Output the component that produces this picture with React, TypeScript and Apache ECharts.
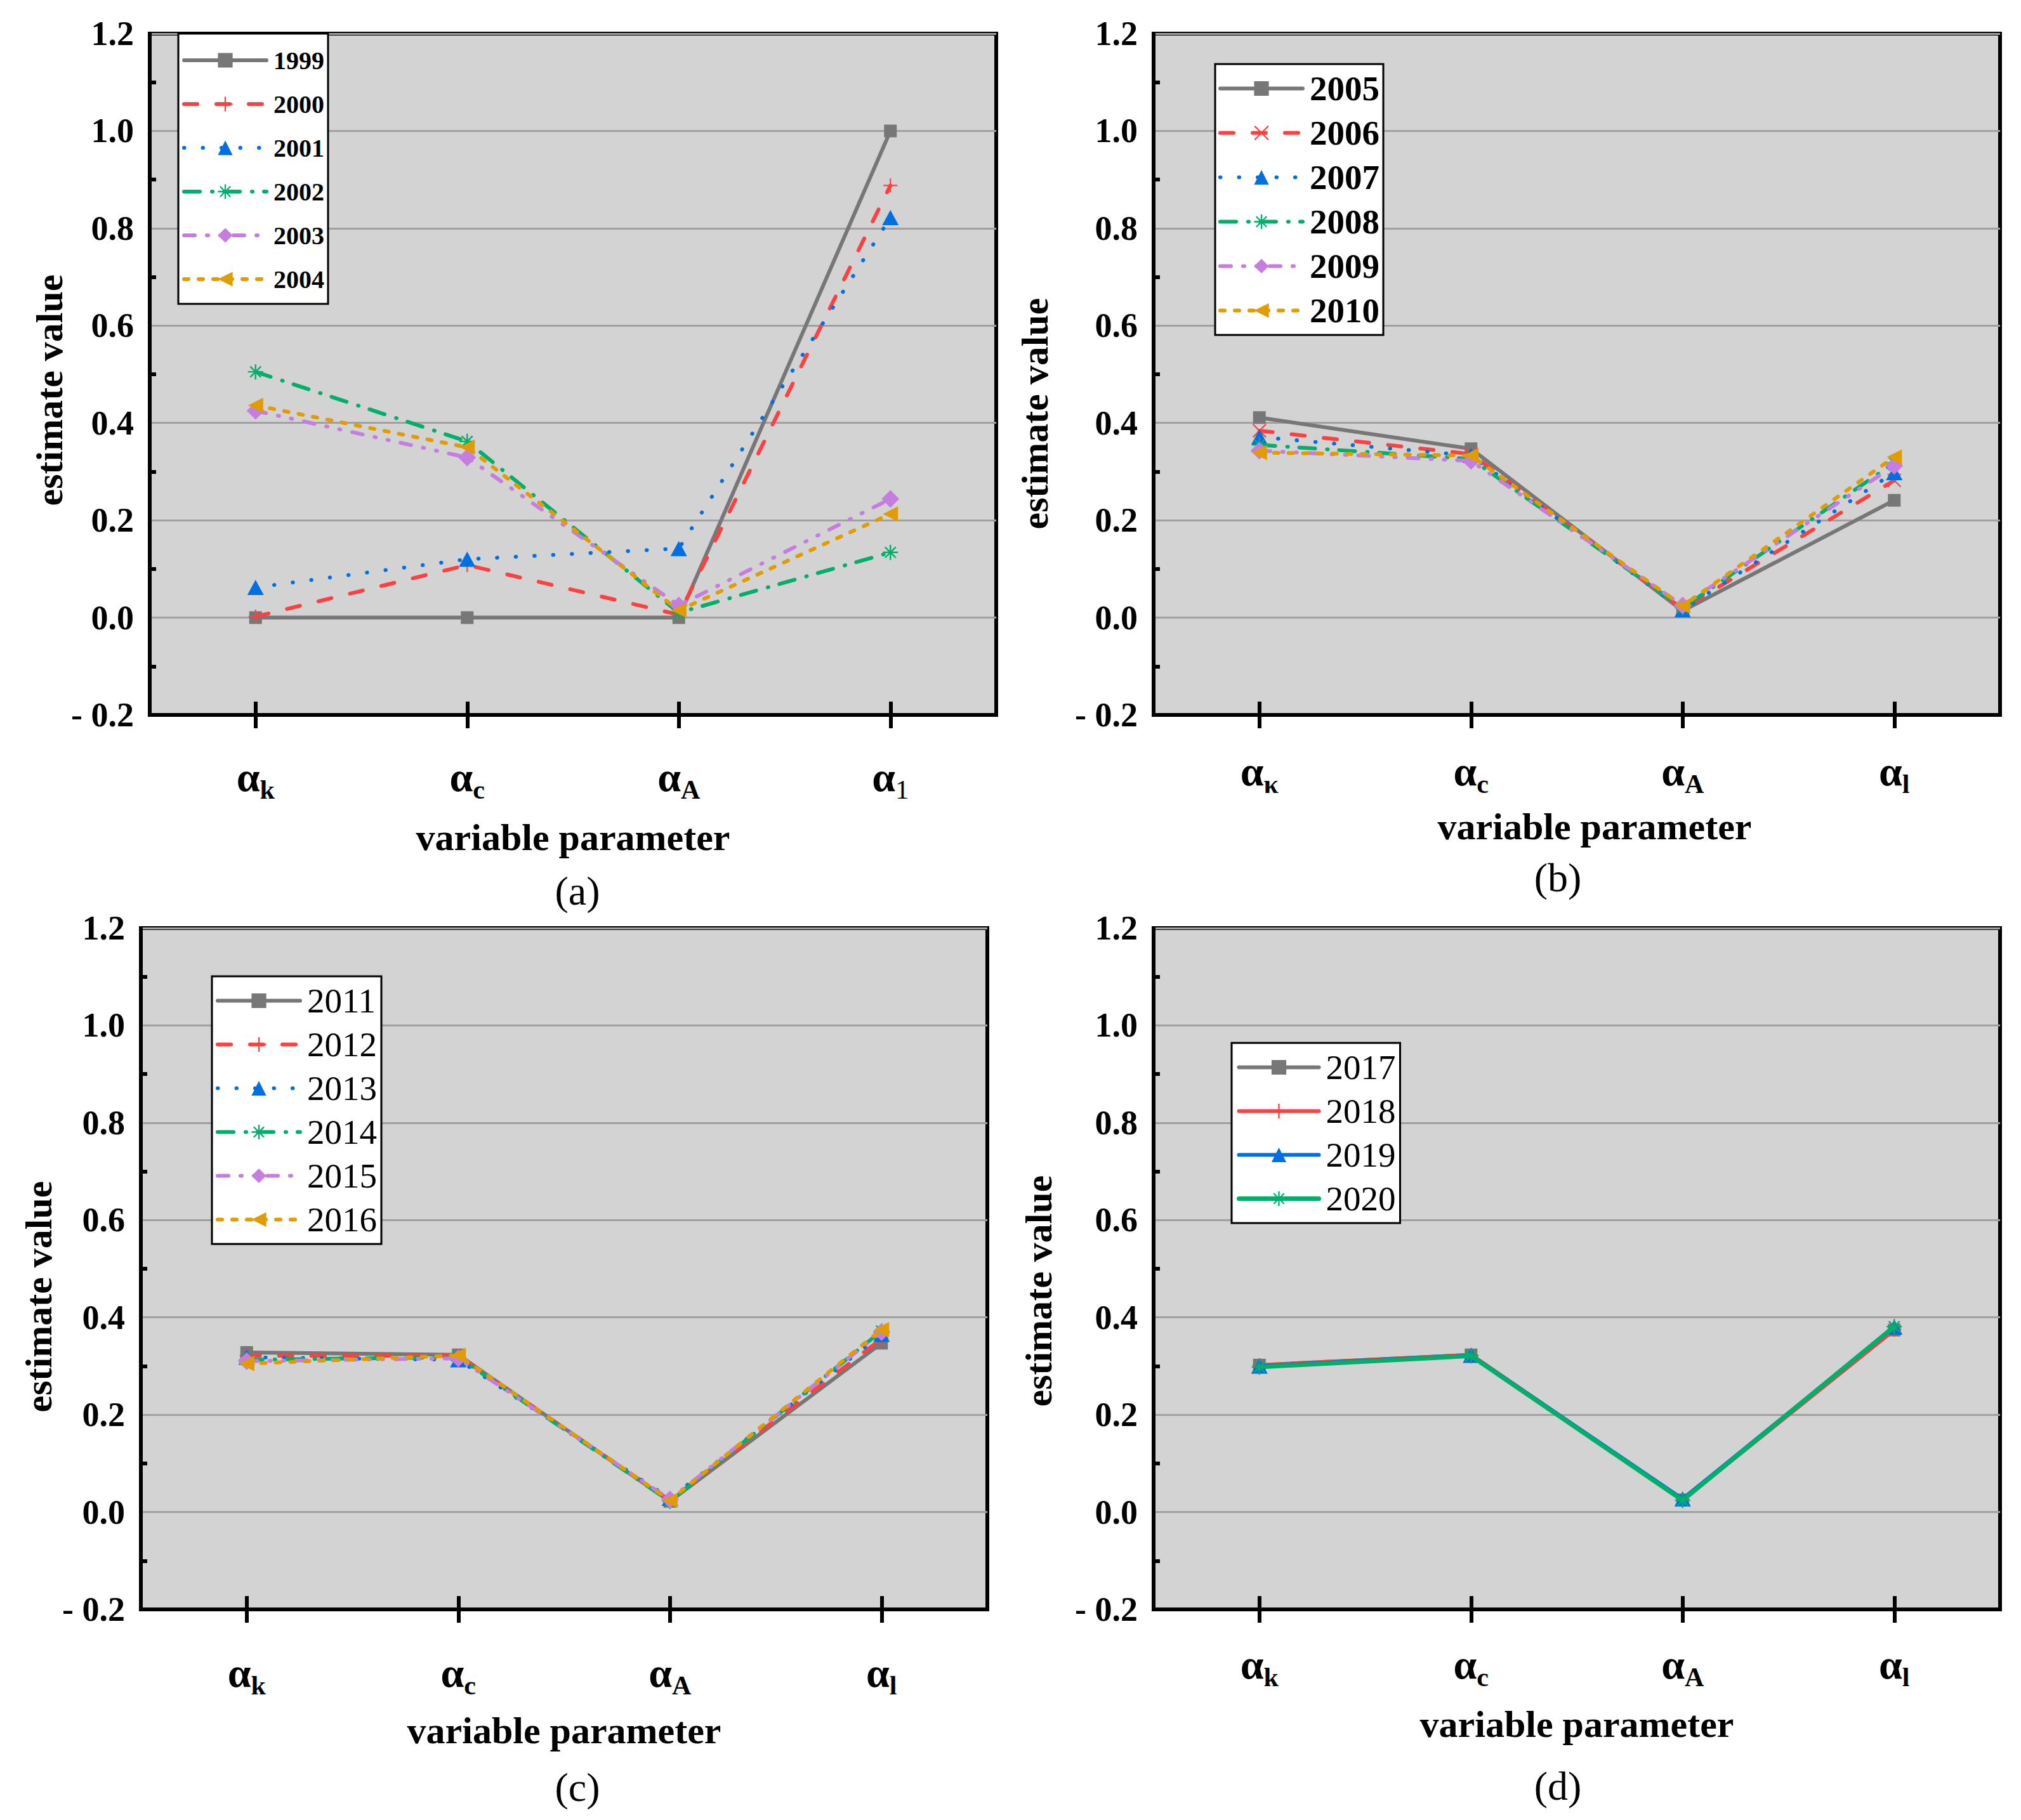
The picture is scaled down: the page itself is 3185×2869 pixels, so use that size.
import React, { useEffect, useRef } from 'react';
import * as echarts from 'echarts';

// ---------- data ----------
const catsA = ['αk', 'αc', 'αA', 'α1'];
const catsB = ['ακ', 'αc', 'αA', 'αl'];
const catsC = ['αk', 'αc', 'αA', 'αl'];
const catsD = ['αk', 'αc', 'αA', 'αl'];

const yearsA = ['1999', '2000', '2001', '2002', '2003', '2004'];
const yearsB = ['2005', '2006', '2007', '2008', '2009', '2010'];
const yearsC = ['2011', '2012', '2013', '2014', '2015', '2016'];
const yearsD = ['2017', '2018', '2019', '2020'];

const y1999 = [0, 0, 0, 1.0];
const y2000 = [0.002, 0.108, 0.006, 0.888];
const y2001 = [0.062, 0.12, 0.142, 0.822];
const y2002 = [0.505, 0.362, 0.01, 0.134];
const y2003 = [0.425, 0.329, 0.025, 0.244];
const y2004 = [0.436, 0.35, 0.015, 0.213];

const y2005 = [0.411, 0.347, 0.014, 0.241];
const y2006 = [0.384, 0.336, 0.018, 0.282];
const y2007 = [0.371, 0.333, 0.016, 0.298];
const y2008 = [0.355, 0.326, 0.02, 0.318];
const y2009 = [0.343, 0.322, 0.025, 0.312];
const y2010 = [0.339, 0.333, 0.024, 0.33];

const y2011 = [0.328, 0.323, 0.022, 0.347];
const y2012 = [0.321, 0.321, 0.024, 0.356];
const y2013 = [0.318, 0.313, 0.028, 0.365];
const y2014 = [0.313, 0.318, 0.022, 0.372];
const y2015 = [0.31, 0.316, 0.026, 0.37];
const y2016 = [0.305, 0.322, 0.024, 0.375];

const y2017 = [0.302, 0.323, 0.025, 0.374];
const y2018 = [0.302, 0.323, 0.025, 0.375];
const y2019 = [0.3, 0.322, 0.027, 0.38];
const y2020 = [0.298, 0.321, 0.024, 0.381];

const yTickMin = -0.2;
const yTickMax = 1.2;
const yTickStep = 0.2;

// ---------- styles ----------
const FONT = 'Liberation Serif';
const PLUS = 'path://M9,0H11V9H20V11H11V20H9V11H0V9H9Z';
const STAR =
  'path://M9,0H11V20H9Z M0,9H20V11H0Z M3.64,2.22L17.78,16.36L16.36,17.78L2.22,3.64Z M16.36,2.22L17.78,3.64L3.64,17.78L2.22,16.36Z';
const CROSS = 'path://M0,1.41L1.41,0L20,18.59L18.59,20Z M18.59,0L20,1.41L1.41,20L0,18.59Z';
const LTRI = 'path://M0,10L20,0L20,20Z';

type Sty = { color: string; symbol: string; size: any; dash: any };
const STY: Sty[] = [
  { color: '#777777', symbol: 'rect', size: 20, dash: 'solid' },
  { color: '#ff4040', symbol: PLUS, size: 22, dash: [21, 30] },
  { color: '#0070e0', symbol: 'triangle', size: [26, 24], dash: [0.5, 29] },
  { color: '#00b06a', symbol: STAR, size: 24, dash: [25, 19, 1, 18] },
  { color: '#c57ee0', symbol: 'diamond', size: [28, 28], dash: [17, 19, 2, 19, 2, 19] },
  { color: '#e09c00', symbol: LTRI, size: 24, dash: [7, 16] },
];

type Panel = {
  cats: string[];
  years: string[];
  values: number[][];
  grid: { left: number; top: number };
  labelMargin: number;
  xNameGap: number;
  xNamePad: number[];
  yNameGap: number;
  yNamePad: number[];
  legend: { left: number; top: number; pad: number[]; gap: number; font: number; bold: boolean; lh: number; iw: number };
  solid: boolean;
  marker2?: string;
  tag: string;
  tagPos: number[];
};

const panels: Panel[] = [
  {
    cats: catsA,
    years: yearsA,
    values: [y1999, y2000, y2001, y2002, y2003, y2004],
    grid: { left: 236, top: 53 },
    labelMargin: 64,
    xNameGap: 163,
    xNamePad: [0, 0, 0, 0],
    yNameGap: 92,
    yNamePad: [0, 50, 0, 0],
    legend: { left: 281, top: 53, pad: [22, 6, 19, 6], gap: 29, font: 40, bold: true, lh: 40, iw: 130 },
    solid: false,
    tag: '(a)',
    tagPos: [910, 1404],
  },
  {
    cats: catsB,
    years: yearsB,
    values: [y2005, y2006, y2007, y2008, y2009, y2010],
    grid: { left: 1818, top: 53 },
    labelMargin: 55,
    xNameGap: 146,
    xNamePad: [0, 0, 0, 56],
    yNameGap: 157,
    yNamePad: [0, 124, 0, 0],
    legend: { left: 1915, top: 101, pad: [11, 6, 11, 5], gap: 15, font: 55, bold: true, lh: 55, iw: 130 },
    solid: false,
    marker2: CROSS,
    tag: '(b)',
    tagPos: [2455, 1383],
  },
  {
    cats: catsC,
    years: yearsC,
    values: [y2011, y2012, y2013, y2014, y2015, y2016],
    grid: { left: 222, top: 1463 },
    labelMargin: 66,
    xNameGap: 161,
    xNamePad: [0, 0, 0, 0],
    yNameGap: 131,
    yNamePad: [0, 88, 0, 0],
    legend: { left: 334, top: 1539, pad: [11, 7, 11, 6], gap: 14, font: 55, bold: false, lh: 55, iw: 130 },
    solid: false,
    tag: '(c)',
    tagPos: [910, 2817],
  },
  {
    cats: catsD,
    years: yearsD,
    values: [y2017, y2018, y2019, y2020],
    grid: { left: 1818, top: 1463 },
    labelMargin: 53,
    xNameGap: 151,
    xNamePad: [0, 0, 0, 0],
    yNameGap: 151,
    yNamePad: [0, 70, 0, 0],
    legend: { left: 1941, top: 1644, pad: [11, 7, 11, 8], gap: 14, font: 55, bold: false, lh: 55, iw: 126 },
    solid: true,
    tag: '(d)',
    tagPos: [2455, 2815],
  },
];

const GW = 1334;
const GH = 1074;

function buildOption() {
  const grid: any[] = [];
  const xAxis: any[] = [];
  const yAxis: any[] = [];
  const series: any[] = [];
  const legend: any[] = [];
  const graphic: any[] = [];

  panels.forEach((p, gi) => {
    grid.push({
      left: p.grid.left,
      top: p.grid.top,
      width: GW,
      height: GH,
      show: true,
      backgroundColor: '#d3d3d3',
      borderColor: '#000',
      borderWidth: 6,
    });
    const labelFmt = (v: string) => {
      const sub = v.slice(1);
      const key = sub === '1' ? 'r' : 's';
      return '{a|' + v.charAt(0) + '}{' + key + '|' + sub + '}';
    };
    xAxis.push({
      type: 'category',
      gridIndex: gi,
      data: p.cats,
      position: 'bottom',
      boundaryGap: true,
      axisLine: { show: true, onZero: false, lineStyle: { color: '#000', width: 6 } },
      axisTick: { show: true, alignWithLabel: true, inside: false, length: 21, lineStyle: { color: '#000', width: 6 } },
      axisLabel: {
        interval: 0,
        margin: p.labelMargin,
        formatter: labelFmt,
        rich: {
          a: { fontFamily: FONT, fontWeight: 'bold', fontSize: 66, lineHeight: 66, verticalAlign: 'top', color: '#000' },
          s: { fontFamily: FONT, fontWeight: 'bold', fontSize: 42, lineHeight: 42, verticalAlign: 'top', padding: [33, 0, 0, 0], color: '#000' },
          r: { fontFamily: FONT, fontWeight: 'normal', fontSize: 42, lineHeight: 42, verticalAlign: 'top', padding: [33, 0, 0, 0], color: '#000' },
        },
      },
      splitLine: { show: false },
      name: 'variable parameter',
      nameLocation: 'middle',
      nameGap: p.xNameGap,
      nameTextStyle: { fontFamily: FONT, fontWeight: 'bold', fontSize: 60, color: '#000', padding: p.xNamePad },
    });
    xAxis.push({
      type: 'category',
      gridIndex: gi,
      data: p.cats,
      position: 'bottom',
      boundaryGap: true,
      axisLine: { show: false, onZero: false },
      axisTick: { show: true, alignWithLabel: true, inside: true, length: 21, lineStyle: { color: '#000', width: 6 } },
      axisLabel: { show: false },
      splitLine: { show: false },
    });
    yAxis.push({
      type: 'value',
      gridIndex: gi,
      min: yTickMin,
      max: yTickMax,
      interval: yTickStep,
      axisLine: { show: true, onZero: false, lineStyle: { color: '#000', width: 6 } },
      axisTick: { show: false, inside: true },
      minorTick: { show: true, splitNumber: 2, length: 10, lineStyle: { color: '#000', width: 6 } },
      axisLabel: {
        margin: 25,
        fontFamily: FONT,
        fontWeight: 'bold',
        fontSize: 54,
        color: '#000',
        formatter: (v: number) => (v < -1e-9 ? '- ' + Math.abs(v).toFixed(1) : Math.abs(v).toFixed(1)),
      },
      splitLine: { show: true, lineStyle: { color: '#a0a0a0', width: 3 } },
      name: 'estimate value',
      nameLocation: 'middle',
      nameGap: p.yNameGap,
      nameRotate: 90,
      nameTextStyle: { fontFamily: FONT, fontWeight: 'bold', fontSize: 60, color: '#000', padding: p.yNamePad },
    });

    p.years.forEach((yr, si) => {
      const st = STY[si];
      const symbol = si === 1 && p.marker2 ? p.marker2 : st.symbol;
      const dash = p.solid ? 'solid' : st.dash;
      const width = p.solid && si === 3 ? 7 : 6;
      series.push({
        type: 'line',
        name: yr,
        xAxisIndex: gi * 2,
        yAxisIndex: gi,
        data: p.values[si],
        symbol,
        symbolSize: symbol === CROSS ? 22 : st.size,
        showAllSymbol: true,
        lineStyle: { color: st.color, width, type: dash, cap: 'round' },
        itemStyle: { color: st.color },
        emphasis: { disabled: true },
        z: 3 + si,
      });
    });

    legend.push({
      show: true,
      orient: 'vertical',
      left: p.legend.left,
      top: p.legend.top,
      itemWidth: p.legend.iw,
      itemHeight: 29,
      itemGap: p.legend.gap,
      padding: p.legend.pad,
      backgroundColor: '#fff',
      borderColor: '#000',
      borderWidth: 3,
      selectedMode: false,
      textStyle: {
        fontFamily: FONT,
        fontWeight: p.legend.bold ? 'bold' : 'normal',
        fontSize: p.legend.font,
        lineHeight: p.legend.lh,
        color: '#000',
        padding: [0, 0, 0, 6],
      },
      data: p.years.map((yr, si) => ({
        name: yr,
        lineStyle: {
          color: STY[si].color,
          width: p.solid && si === 3 ? 7 : 6,
          type: p.solid ? 'solid' : STY[si].dash,
          cap: 'round',
        },
      })),
    });

    graphic.push({
      type: 'text',
      x: p.tagPos[0],
      y: p.tagPos[1],
      style: {
        text: p.tag,
        fontFamily: FONT,
        fontSize: 64,
        fill: '#000',
        textAlign: 'center',
        textVerticalAlign: 'middle',
        align: 'center',
        verticalAlign: 'middle',
      },
    });
  });

  return {
    animation: false,
    backgroundColor: '#fff',
    textStyle: { fontFamily: FONT },
    grid,
    xAxis,
    yAxis,
    series,
    legend,
    graphic,
  };
}

export default function App() {
  const ref = useRef<HTMLDivElement>(null);
  useEffect(() => {
    if (!ref.current) return;
    const chart = echarts.init(ref.current, undefined, { renderer: 'svg' });
    chart.setOption(buildOption() as any);
    return () => chart.dispose();
  }, []);
  return (
    <div
      ref={ref}
      style={{ position: 'absolute', left: 0, top: 0, width: 3185, height: 2869, background: '#fff' }}
    />
  );
}
